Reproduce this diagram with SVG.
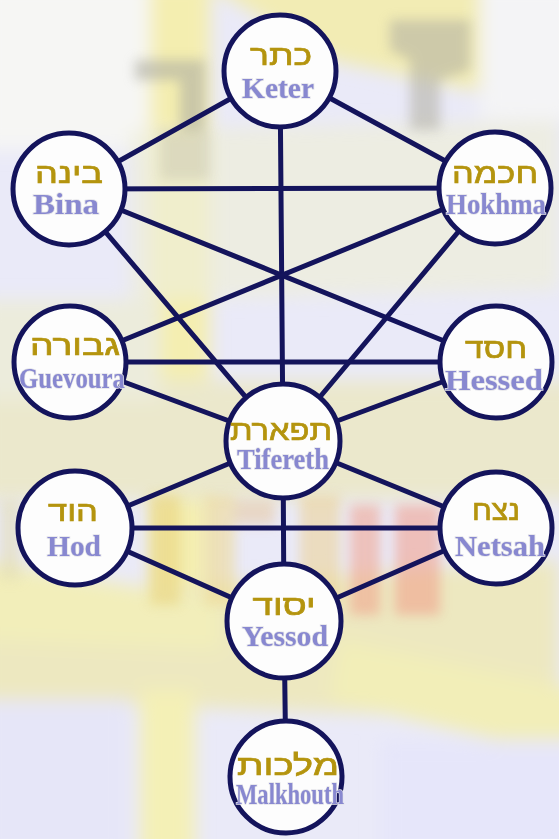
<svg xmlns="http://www.w3.org/2000/svg" width="559" height="839" viewBox="0 0 559 839">
<defs>
<filter id="blur" x="-20%" y="-20%" width="140%" height="140%"><feGaussianBlur stdDeviation="9"/></filter>
<filter id="blur2" x="-20%" y="-20%" width="140%" height="140%"><feGaussianBlur stdDeviation="6"/></filter>
<style>
.edge{stroke:#14145c;stroke-width:5;fill:none;stroke-linecap:round}
.node circle{fill:#fdfdfd;stroke:#14145c;stroke-width:5}
.he{font-family:"Liberation Sans","DejaVu Sans",sans-serif;font-size:29px;fill:#b4940e;stroke:#b4940e;stroke-width:0.7;text-anchor:middle;direction:rtl}
.la{font-family:"Liberation Serif","DejaVu Serif",serif;font-weight:bold;font-size:29px;fill:#8888d0;text-anchor:middle;stroke:#e4e4e8;stroke-width:1.5;paint-order:stroke}
</style>
</defs>
<g id="background">
<rect x="0" y="0" width="559" height="839" fill="#eaeaf8"/>
<g filter="url(#blur)">
<rect x="-20" y="-20" width="190" height="170" fill="#f6f6f4"/>
<rect x="150" y="-20" width="60" height="640" fill="#f4eeb0"/>
<polygon points="200,-20 480,-20 520,100 330,60" fill="#f2ecb4"/>
<rect x="480" y="-20" width="100" height="140" fill="#f4f4f6"/>
<polygon points="130,130 559,120 559,290 130,300" fill="#eeeed8" opacity="0.7"/>
<rect x="-20" y="380" width="600" height="120" fill="#ebe8cc"/>
<rect x="-20" y="300" width="180" height="100" fill="#ececdc"/>
<polygon points="-20,600 559,560 559,720 -20,700" fill="#ede8c0"/>
<polygon points="340,640 580,690 580,760 330,700" fill="#f2eeb8"/>
<polygon points="-20,560 220,600 220,650 -20,640" fill="#f2eeba"/>
<rect x="140" y="690" width="55" height="170" fill="#f4f0b6"/>
<rect x="-20" y="700" width="150" height="160" fill="#e6e6f8"/>
<rect x="380" y="740" width="200" height="120" fill="#e6e6fa"/>
</g>
<g filter="url(#blur2)" opacity="0.55">
<path d="M135,60 L205,60 L205,130 L180,130 L180,80 L135,80 Z" fill="#a8a8a0"/>
<path d="M390,20 L470,20 L470,70 L440,80 L440,130 L410,130 L410,60 L390,50 Z" fill="#b0aea0"/>
<rect x="160" y="130" width="50" height="50" fill="#b4b2a4" opacity="0.6"/>
<rect x="150" y="495" width="30" height="110" fill="#e8d27a"/>
<rect x="205" y="495" width="30" height="110" fill="#eed890"/>
<rect x="235" y="500" width="40" height="25" fill="#e6c8a0"/>
<rect x="300" y="495" width="40" height="110" fill="#ecd090"/>
<rect x="350" y="505" width="30" height="110" fill="#f0a08a"/>
<rect x="395" y="505" width="45" height="110" fill="#f09c88"/>
<rect x="0" y="500" width="20" height="80" fill="#e2dcb0"/>
</g>
</g>
<g id="connectors">
<line class="edge" x1="280" y1="71" x2="69" y2="189"/>
<line class="edge" x1="280" y1="71" x2="495" y2="188"/>
<line class="edge" x1="280" y1="71" x2="283" y2="441"/>
<line class="edge" x1="69" y1="189" x2="495" y2="188"/>
<line class="edge" x1="69" y1="189" x2="496" y2="362"/>
<line class="edge" x1="69" y1="189" x2="283" y2="441"/>
<line class="edge" x1="495" y1="188" x2="70" y2="362"/>
<line class="edge" x1="495" y1="188" x2="283" y2="441"/>
<line class="edge" x1="70" y1="362" x2="496" y2="362"/>
<line class="edge" x1="70" y1="362" x2="283" y2="441"/>
<line class="edge" x1="496" y1="362" x2="283" y2="441"/>
<line class="edge" x1="283" y1="441" x2="75" y2="528"/>
<line class="edge" x1="283" y1="441" x2="496" y2="528"/>
<line class="edge" x1="283" y1="441" x2="284" y2="621"/>
<line class="edge" x1="75" y1="528" x2="496" y2="528"/>
<line class="edge" x1="75" y1="528" x2="284" y2="621"/>
<line class="edge" x1="496" y1="528" x2="284" y2="621"/>
<line class="edge" x1="284" y1="621" x2="286" y2="777"/>
</g>
<g id="keter" class="node"><circle cx="280" cy="71" r="56"/><text class="he" x="281" y="65" textLength="62" lengthAdjust="spacingAndGlyphs">כתר</text><text class="la" x="278" y="98" textLength="72" lengthAdjust="spacingAndGlyphs">Keter</text></g>
<g id="bina" class="node"><circle cx="69" cy="189" r="56"/><text class="he" x="69" y="183" textLength="68" lengthAdjust="spacingAndGlyphs">בינה</text><text class="la" x="66" y="214" textLength="66" lengthAdjust="spacingAndGlyphs">Bina</text></g>
<g id="hokhma" class="node"><circle cx="495" cy="188" r="56"/><text class="he" x="495" y="183" textLength="86" lengthAdjust="spacingAndGlyphs">חכמה</text><text class="la" x="496" y="214" textLength="100" lengthAdjust="spacingAndGlyphs">Hokhma</text></g>
<g id="guevoura" class="node"><circle cx="70" cy="362" r="56"/><text class="he" x="75" y="355" textLength="90" lengthAdjust="spacingAndGlyphs">גבורה</text><text class="la" x="72" y="388" textLength="106" lengthAdjust="spacingAndGlyphs">Guevoura</text></g>
<g id="hessed" class="node"><circle cx="496" cy="362" r="56"/><text class="he" x="496" y="358" textLength="62" lengthAdjust="spacingAndGlyphs">חסד</text><text class="la" x="494" y="390" textLength="98" lengthAdjust="spacingAndGlyphs">Hessed</text></g>
<g id="tifereth" class="node"><circle cx="283" cy="441" r="57"/><text class="he" x="281" y="440" textLength="102" lengthAdjust="spacingAndGlyphs">תפארת</text><text class="la" x="283" y="469" textLength="92" lengthAdjust="spacingAndGlyphs">Tifereth</text></g>
<g id="hod" class="node"><circle cx="75" cy="528" r="57"/><text class="he" x="73" y="521" textLength="50" lengthAdjust="spacingAndGlyphs">הוד</text><text class="la" x="74" y="556" textLength="54" lengthAdjust="spacingAndGlyphs">Hod</text></g>
<g id="netsah" class="node"><circle cx="496" cy="528" r="56"/><text class="he" x="496" y="520" textLength="48" lengthAdjust="spacingAndGlyphs">נצח</text><text class="la" x="500" y="556" textLength="90" lengthAdjust="spacingAndGlyphs">Netsah</text></g>
<g id="yessod" class="node"><circle cx="284" cy="621" r="57"/><text class="he" x="284" y="615" textLength="63" lengthAdjust="spacingAndGlyphs">יסוד</text><text class="la" x="285" y="646" textLength="86" lengthAdjust="spacingAndGlyphs">Yessod</text></g>
<g id="malkhouth" class="node"><circle cx="286" cy="777" r="56"/><text class="he" x="288" y="775" textLength="102" lengthAdjust="spacingAndGlyphs">מלכות</text><text class="la" x="290" y="804" textLength="108" lengthAdjust="spacingAndGlyphs">Malkhouth</text></g>
</svg>
